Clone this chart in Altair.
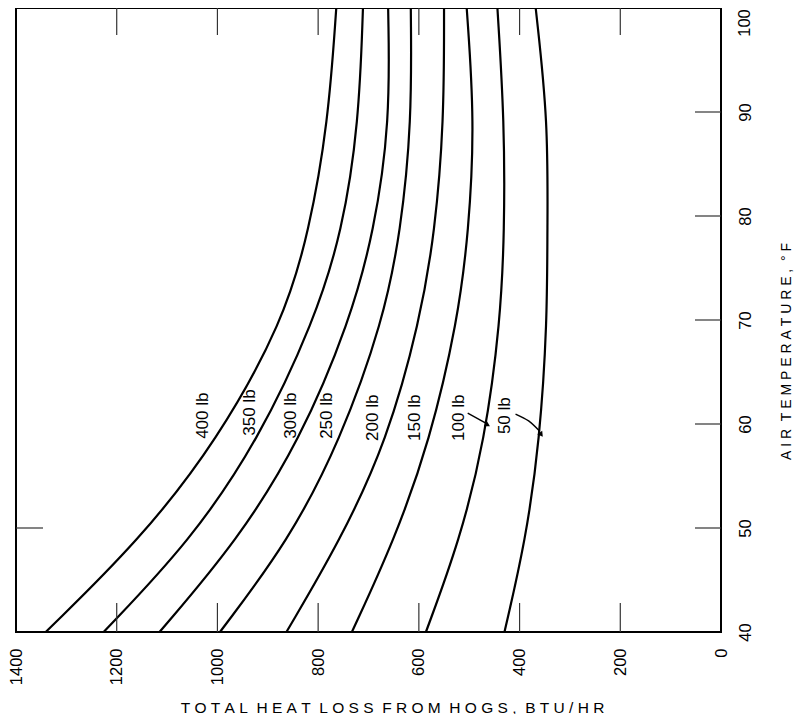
import altair as alt
import pandas as pd

FONT = "Liberation Sans, Arial, sans-serif"
NB = "\u00a0"

# ---------------- data ----------------
temps = [40, 48.8, 58.4, 69.9, 78.5, 89, 100]
weights = ["400 lb", "350 lb", "300 lb", "250 lb", "200 lb", "150 lb", "100 lb", "50 lb"]
heat_400 = [1341, 1155, 1000, 869, 818, 780, 764]
heat_350 = [1226, 1053, 919, 808, 752, 719, 711]
heat_300 = [1115, 960, 836, 737, 689, 657, 661]
heat_250 = [995, 858, 756, 671, 636, 614, 616]
heat_200 = [863, 756, 663, 598, 568, 550, 550]
heat_150 = [733, 649, 578, 523, 501, 489, 505]
heat_100 = [586, 519, 469, 438, 430, 430, 444]
heat_50 = [430, 388, 360, 345, 345, 343, 368]
series = [heat_400, heat_350, heat_300, heat_250, heat_200, heat_150, heat_100, heat_50]

label_heat = [1028, 935, 853, 782, 691, 608, 521, 428]
label_temp = [60.8, 61.1, 60.8, 60.8, 60.6, 60.6, 60.6, 60.8]

arrow_ids = ["100 lb", "100 lb", "50 lb", "50 lb", "50 lb"]
arrow_heat = [503, 468, 408, 382, 360]
arrow_temp = [61.05, 60.1, 60.96, 60.3, 59.3]
head_heat = [465, 358]
head_temp = [59.95, 59.05]
head_angle = [120, 145]

x_ticks = [1400, 1200, 1000, 800, 600, 400, 200, 0]
inner_x_ticks = [1200, 1000, 800, 600, 400, 200]
y_ticks = [40, 50, 60, 70, 80, 90, 100]
right_inner_y_ticks = [50, 60, 70, 80, 90]
left_inner_y_ticks = [50]

X_TITLE = "TOTAL HEAT LOSS FROM HOGS, BTU/HR"
Y_TITLE = "AIR TEMPERATURE,"
Y_UNIT = "°F"

# ---------------- tables ----------------
rows = []
for w, vals in zip(weights, series):
    for t, h in zip(temps, vals):
        rows.append({"weight": w, "temp": t, "heat": h})
curve_df = pd.DataFrame(rows)
label_df = pd.DataFrame({"label": weights, "heat": label_heat, "temp": label_temp})
arrow_df = pd.DataFrame({"arrow": arrow_ids, "heat": arrow_heat, "temp": arrow_temp,
                         "k": list(range(len(arrow_ids)))})
head_df = pd.DataFrame({"heat": head_heat, "temp": head_temp, "ang": head_angle})
xt_df = pd.DataFrame({"v": inner_x_ticks})
ryt_df = pd.DataFrame({"v": right_inner_y_ticks})
lyt_df = pd.DataFrame({"v": left_inner_y_ticks})
top_label_df = pd.DataFrame({"v": [y_ticks[-1]]})


def spaced(s, gap=2):
    words = s.split(" ")
    return (NB * gap).join(NB.join(list(w)) for w in words)


x_title = spaced(X_TITLE)
y_title = spaced(Y_TITLE) + NB * 2 + NB.join(list(Y_UNIT))

W, H = 705, 624
LABEL_SIZE = 16.5
xs = alt.Scale(domain=[0, 1400], reverse=True, nice=False, zero=False)
ys = alt.Scale(domain=[40, 100], nice=False, zero=False)

x_axis = alt.Axis(
    orient="bottom", values=x_ticks, labelAngle=270, labelAlign="right",
    labelBaseline="middle", labelPadding=16, ticks=False,
    domain=False, grid=False, labelFont=FONT, labelFontSize=LABEL_SIZE,
    labelColor="black", format="d", title=x_title, titleFont=FONT,
    titleFontSize=15.5, titleFontWeight="normal", titleColor="black",
    titleX=376, titleY=75, titleAlign="center", titleBaseline="middle",
    titleAngle=0,
)
y_axis = alt.Axis(
    orient="right", values=y_ticks[:-1], labelAngle=270, labelAlign="center",
    labelBaseline="top", labelPadding=16, ticks=False,
    domain=False, grid=False, labelFont=FONT, labelFontSize=LABEL_SIZE,
    labelColor="black", format="d",
    title=y_title, titleFont=FONT, titleFontSize=14, titleFontWeight="normal",
    titleColor="black", titleAngle=270, titleX=65, titleY=343,
    titleAlign="center", titleBaseline="middle",
)

curves = alt.Chart(curve_df).mark_line(
    color="black", strokeWidth=2.2, interpolate="basis"
).encode(
    x=alt.X("heat:Q", scale=xs, axis=x_axis),
    y=alt.Y("temp:Q", scale=ys, axis=y_axis),
    detail="weight:N",
    order="temp:Q",
)

bottom_ticks = alt.Chart(xt_df).mark_rule(color="#333", strokeWidth=1.2).encode(
    x=alt.X("v:Q", scale=xs), y=alt.value(H), y2=alt.value(H - 29)
)
top_ticks = alt.Chart(xt_df).mark_rule(color="#333", strokeWidth=1.2).encode(
    x=alt.X("v:Q", scale=xs), y=alt.value(0), y2=alt.value(27)
)
right_ticks = alt.Chart(ryt_df).mark_rule(color="#333", strokeWidth=1.2).encode(
    y=alt.Y("v:Q", scale=ys), x=alt.value(W), x2=alt.value(W - 26)
)
left_ticks = alt.Chart(lyt_df).mark_rule(color="#333", strokeWidth=1.2).encode(
    y=alt.Y("v:Q", scale=ys), x=alt.value(0), x2=alt.value(27)
)

# top label of the temperature axis, moved down so it stays inside the frame
top_label = alt.Chart(top_label_df).mark_text(
    angle=270, font=FONT, fontSize=LABEL_SIZE, color="black", align="center", baseline="top"
).encode(
    x=alt.value(W + 16),
    y=alt.Y("v:Q", scale=ys),
    yOffset=alt.value(15),
    text=alt.Text("v:Q", format="d"),
)

labels = alt.Chart(label_df).mark_text(
    angle=270, font=FONT, fontSize=17, color="black", align="center", baseline="middle"
).encode(
    x=alt.X("heat:Q", scale=xs),
    y=alt.Y("temp:Q", scale=ys),
    text="label:N",
)

arrows = alt.Chart(arrow_df).mark_line(
    color="black", strokeWidth=1.4, interpolate="natural"
).encode(
    x=alt.X("heat:Q", scale=xs),
    y=alt.Y("temp:Q", scale=ys),
    detail="arrow:N",
    order="k:Q",
)
heads = alt.Chart(head_df).mark_point(
    shape="triangle", filled=True, size=38, color="black", opacity=1
).encode(
    x=alt.X("heat:Q", scale=xs),
    y=alt.Y("temp:Q", scale=ys),
    angle=alt.Angle("ang:Q", scale=None),
)

chart = alt.layer(
    curves, bottom_ticks, top_ticks, right_ticks, left_ticks, arrows, heads, labels, top_label
).properties(
    width=W, height=H, background="white",
    padding={"left": 8, "top": 0, "right": 73, "bottom": 82},
    autosize=alt.AutoSizeParams(type="none"),
).configure_view(
    stroke="black", strokeWidth=2
)

chart.save("out.html", embed_options={"renderer": "svg", "actions": False})
